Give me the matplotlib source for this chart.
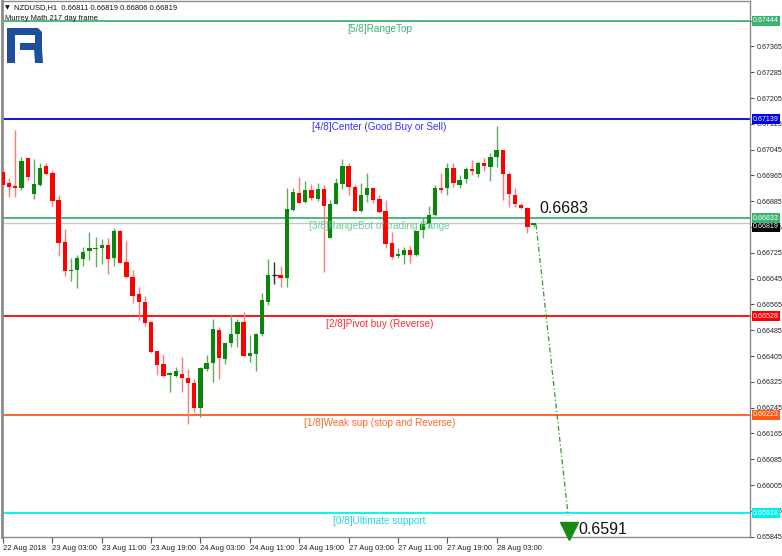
import numpy as np
import matplotlib
matplotlib.use("Agg")
from matplotlib import pyplot as plt
from matplotlib.patches import Polygon

plt.rcParams['font.family'] = ['Liberation Sans', 'DejaVu Sans']

# NZDUSD H1 candles (22 Aug 19:00 -> 28 Aug 09:00)
opens = [0.66976, 0.66943, 0.66932, 0.66927, 0.67019, 0.66908, 0.66936, 0.66994, 0.66974, 0.66889,
         0.66760, 0.66669, 0.66672, 0.66705, 0.66731, 0.66738, 0.66739, 0.66750, 0.66708, 0.66793,
         0.66698, 0.66651, 0.66598, 0.66574, 0.66512, 0.66421, 0.66380, 0.66347, 0.66343, 0.66349,
         0.66336, 0.66321, 0.66243, 0.66365, 0.66383, 0.66486, 0.66395, 0.66445, 0.66474, 0.66512,
         0.66406, 0.66412, 0.66474, 0.66574, 0.66656, 0.66657, 0.66646, 0.66858, 0.66912, 0.66884,
         0.66920, 0.66892, 0.66922, 0.66770, 0.66877, 0.66939, 0.66994, 0.66928, 0.66856, 0.66905,
         0.66925, 0.66891, 0.66856, 0.66755, 0.66716, 0.66719, 0.66734, 0.66719, 0.66796, 0.66815,
         0.66843, 0.66925, 0.66925, 0.66987, 0.66936, 0.66954, 0.66984, 0.66970, 0.67003, 0.66992,
         0.67021, 0.67044, 0.66970, 0.66905, 0.66874, 0.66863, 0.66811]
highs = [0.66985, 0.66957, 0.67106, 0.67023, 0.67020, 0.67016, 0.67004, 0.67004, 0.66982, 0.66905,
         0.66799, 0.66709, 0.66719, 0.66743, 0.66790, 0.66775, 0.66768, 0.66771, 0.66803, 0.66796,
         0.66763, 0.66672, 0.66620, 0.66591, 0.66514, 0.66421, 0.66411, 0.66357, 0.66372, 0.66403,
         0.66364, 0.66333, 0.66372, 0.66409, 0.66520, 0.66494, 0.66447, 0.66535, 0.66519, 0.66543,
         0.66471, 0.66476, 0.66602, 0.66705, 0.66698, 0.66684, 0.66927, 0.66925, 0.66959, 0.66948,
         0.66938, 0.66943, 0.66936, 0.66889, 0.66956, 0.67015, 0.67005, 0.66936, 0.66941, 0.66974,
         0.66930, 0.66905, 0.66889, 0.66791, 0.66739, 0.66744, 0.66746, 0.66793, 0.66833, 0.66870,
         0.66936, 0.66974, 0.67005, 0.67005, 0.66967, 0.66992, 0.67013, 0.67011, 0.67018, 0.67034,
         0.67118, 0.67044, 0.66977, 0.66925, 0.66879, 0.66866, 0.66819]
lows = [0.66929, 0.66898, 0.66898, 0.66920, 0.66951, 0.66892, 0.66933, 0.66967, 0.66870, 0.66715,
        0.66654, 0.66638, 0.66617, 0.66685, 0.66703, 0.66682, 0.66691, 0.66660, 0.66685, 0.66693,
        0.66646, 0.66571, 0.66517, 0.66497, 0.66416, 0.66347, 0.66341, 0.66295, 0.66339, 0.66295,
        0.66195, 0.66231, 0.66215, 0.66360, 0.66326, 0.66333, 0.66381, 0.66432, 0.66432, 0.66401,
        0.66388, 0.66360, 0.66467, 0.66564, 0.66628, 0.66620, 0.66620, 0.66856, 0.66879, 0.66879,
        0.66889, 0.66887, 0.66667, 0.66770, 0.66877, 0.66922, 0.66905, 0.66853, 0.66853, 0.66884,
        0.66881, 0.66848, 0.66739, 0.66705, 0.66708, 0.66692, 0.66693, 0.66715, 0.66770, 0.66806,
        0.66839, 0.66910, 0.66905, 0.66930, 0.66925, 0.66941, 0.66967, 0.66959, 0.66980, 0.66949,
        0.66992, 0.66889, 0.66866, 0.66866, 0.66860, 0.66788, 0.66806]
closes = [0.66936, 0.66930, 0.66926, 0.67011, 0.66961, 0.66939, 0.66989, 0.66970, 0.66887, 0.66757,
          0.66669, 0.66673, 0.66709, 0.66729, 0.66741, 0.66741, 0.66750, 0.66706, 0.66794, 0.66695,
          0.66651, 0.66592, 0.66572, 0.66509, 0.66417, 0.66378, 0.66343, 0.66351, 0.66360, 0.66338,
          0.66320, 0.66243, 0.66367, 0.66385, 0.66489, 0.66398, 0.66447, 0.66474, 0.66512, 0.66405,
          0.66414, 0.66474, 0.66579, 0.66657, 0.66656, 0.66646, 0.66860, 0.66914, 0.66881, 0.66920,
          0.66894, 0.66922, 0.66870, 0.66877, 0.66943, 0.66994, 0.66930, 0.66856, 0.66905, 0.66925,
          0.66889, 0.66853, 0.66753, 0.66713, 0.66721, 0.66734, 0.66719, 0.66793, 0.66815, 0.66843,
          0.66925, 0.66920, 0.66987, 0.66941, 0.66951, 0.66984, 0.66979, 0.67003, 0.66994, 0.67021,
          0.67044, 0.66970, 0.66908, 0.66877, 0.66863, 0.66806, 0.66819]

tick_bars = [0, 8, 16, 24, 32, 40, 48, 56, 64, 72, 80]
tick_labels = ["22 Aug 2018", "23 Aug 03:00", "23 Aug 11:00", "23 Aug 19:00", "24 Aug 03:00",
               "24 Aug 11:00", "24 Aug 19:00", "27 Aug 03:00", "27 Aug 11:00", "27 Aug 19:00",
               "28 Aug 03:00"]

# Murrey Math levels
levels = [0.67444, 0.67139, 0.66833, 0.66528, 0.66223, 0.65918]
level_names = ["[5/8]RangeTop", "[4/8]Center (Good Buy or Sell)", "[3/8]RangeBot of trading Range",
               "[2/8]Pivot buy (Reverse)", "[1/8]Weak sup (stop and Reverse)", "[0/8]Ultimate support"]
level_colors = ['#3cb371', '#0000e6', '#3cb371', '#ff0000', '#ff5a14', '#00f0f0']
level_text_colors = ['#3cb371', '#3535ff', '#6ccc9c', '#ff2e2e', '#ff6a2a', '#1ed8e6']

bid = 0.66819
y_ticks = [0.65845 + 0.0008 * k for k in range(21)]

# forecast
fc_start = 0.66813
fc_target = 0.6591
fc_label_start = "0.6683"
fc_label_end = "0.6591"

W, H = 782, 556
fig = plt.figure(figsize=(W / 100, H / 100), dpi=100)
ax = fig.add_axes([2 / W, (H - 537) / H, 748 / W, 536 / H])
ax.set_xlim(-0.16, 121.07)
ax.set_ylim(0.65844, 0.67506)

x = np.arange(len(opens))
o = np.array(opens); h = np.array(highs); l = np.array(lows); c = np.array(closes)
up = c > o
down = c < o
doji = c == o

ax.vlines(x[up], l[up], h[up], color='#5fae5f', lw=1, zorder=3)
ax.vlines(x[down], l[down], h[down], color='#ff7a7a', lw=1, zorder=3)
ax.vlines(x[doji], l[doji], h[doji], color='#303030', lw=1, zorder=3)

body = np.maximum(np.abs(c - o), 0.00003)
ax.bar(x[up], body[up], bottom=o[up], width=0.7, color='#0a860a', zorder=4)
ax.bar(x[down], body[down], bottom=c[down], width=0.7, color='#ff0000', zorder=4)
ax.hlines(o[doji], x[doji] - 0.35, x[doji] + 0.35, color='#202020', lw=1, zorder=4)

# level lines + labels
for lv, name, col, tcol in zip(levels, level_names, level_colors, level_text_colors):
    ax.axhline(lv, color=col, lw=1.3, zorder=2)
    ax.text(61.0, lv - 0.00025, name, color=tcol, fontsize=7.2, ha='center', va='center', zorder=5)
    ax.annotate(f"{lv:.5f}", xy=(1.0, lv), xycoords=('axes fraction', 'data'),
                xytext=(2.2, 0), textcoords='offset points', fontsize=5.1, color='white',
                va='center', ha='left', annotation_clip=False, zorder=10,
                bbox=dict(boxstyle='square,pad=0.2', fc=col, ec='none'))

ax.axhline(bid, color='#c8c8c8', lw=1, zorder=1)
ax.annotate(f"{bid:.5f}", xy=(1.0, bid), xycoords=('axes fraction', 'data'),
            xytext=(2.2, -3), textcoords='offset points', fontsize=5.1, color='white',
            va='center', ha='left', annotation_clip=False, zorder=9,
            bbox=dict(boxstyle='square,pad=0.2', fc='black', ec='none'))

# forecast arrow
ax.plot([86.4, 91.6], [fc_start, fc_target], color='#2e9a2e', lw=0.9,
        ls=(0, (4, 2, 1, 2)), zorder=6)
ax.plot(91.8, 0.65863, marker='v', ms=13, color='#158a15', clip_on=False, zorder=7)
ax.text(87.0, 0.66864, fc_label_start, fontsize=11.5, va='center', ha='left', color='#111111')
ax.text(93.2, 0.65866, fc_label_end, fontsize=11.5, va='center', ha='left', color='#111111')

# axes styling
for s in ax.spines.values():
    s.set_color('#8a8a8a')
    s.set_linewidth(1)
ax.spines['left'].set_linewidth(2)
ax.yaxis.tick_right()
ax.set_yticks(y_ticks)
# labels fully hidden behind the level boxes are left blank
ax.set_yticklabels(["" if min(abs(v - lv) for lv in levels) < 0.00004 else f"{v:.5f}"
                    for v in y_ticks])
ax.tick_params(axis='y', direction='out', length=3, width=0.8, color='#555555',
               labelsize=5.1, pad=2, labelcolor='#222222')
ax.set_xticks(tick_bars)
ax.set_xticklabels(tick_labels, ha='left')
ax.tick_params(axis='x', direction='out', length=4, width=0.8, color='#555555',
               labelsize=5.5, pad=1.5, labelcolor='#222222')

# header
fig.text(5 / W, 1 - 8 / H, "\u25bc", fontsize=4.5, family='DejaVu Sans', va='center', color='#111111')
fig.text(14 / W, 1 - 8 / H, "NZDUSD,H1  0.66811 0.66819 0.66806 0.66819", fontsize=5.4,
         va='center', color='#111111')
fig.text(5 / W, 1 - 19 / H, "Murrey Math 217 day frame", fontsize=5.4, va='center', color='#111111')

# logo
lax = fig.add_axes([7 / W, 1 - 63 / H, 36 / W, 35 / H])
lax.set_xlim(0, 36)
lax.set_ylim(35, 0)
lax.axis('off')
logo = '#1e4f9c'
shapes = [
    [(0, 0), (8, 0), (8, 35), (0, 35)],
    [(0, 0), (31, 0), (35, 4), (35, 7), (0, 7)],
    [(28, 4), (35, 4), (35, 21), (28, 21)],
    [(13, 15), (35, 15), (35, 22), (13, 22)],
    [(27, 21), (35, 21), (36, 35), (28, 35)],
]
for pts in shapes:
    lax.add_patch(Polygon(pts, closed=True, fc=logo, ec='none'))

fig.savefig("out.png", dpi=100)
